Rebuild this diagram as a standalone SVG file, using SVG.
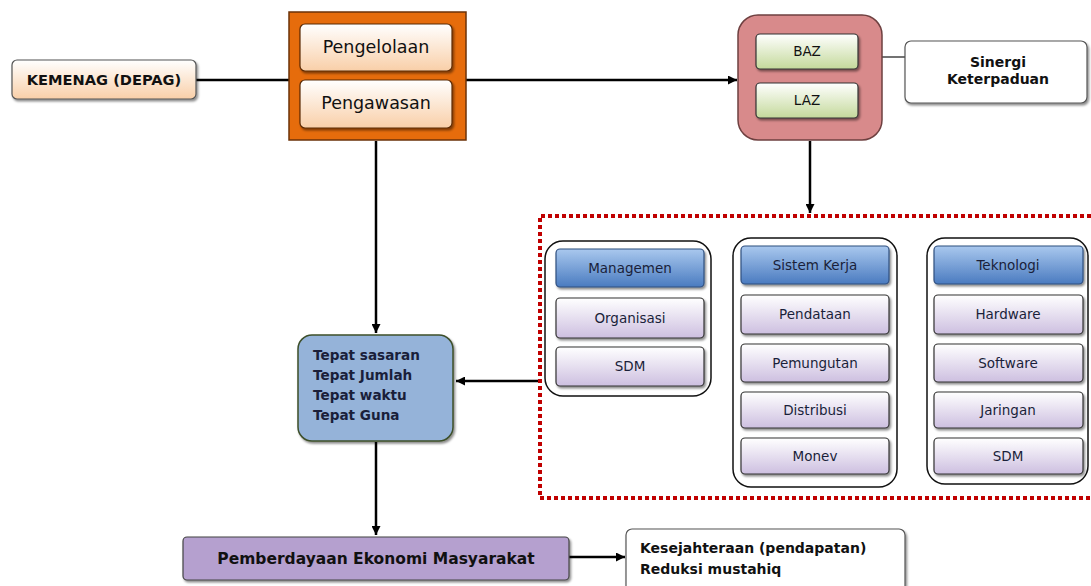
<svg xmlns="http://www.w3.org/2000/svg" width="1091" height="586" viewBox="0 0 1091 586">
<defs>
<linearGradient id="gPeach" x1="0" y1="0" x2="0" y2="1"><stop offset="0" stop-color="#ffffff"/><stop offset="1" stop-color="#f9cfa8"/></linearGradient>
<linearGradient id="gGreen" x1="0" y1="0" x2="0" y2="1"><stop offset="0" stop-color="#ffffff"/><stop offset="1" stop-color="#c4d99b"/></linearGradient>
<linearGradient id="gBlue" x1="0" y1="0" x2="0" y2="1"><stop offset="0" stop-color="#a9c8ee"/><stop offset="1" stop-color="#4a7bc0"/></linearGradient>
<linearGradient id="gLav" x1="0" y1="0" x2="0" y2="1"><stop offset="0" stop-color="#ffffff"/><stop offset="1" stop-color="#cdbfe0"/></linearGradient>
<filter id="sh" x="-10%" y="-10%" width="130%" height="140%"><feDropShadow dx="1.5" dy="2" stdDeviation="1" flood-color="#000" flood-opacity="0.45"/></filter>
<marker id="ah" viewBox="0 0 10 10" refX="10" refY="5" markerWidth="9" markerHeight="9" markerUnits="userSpaceOnUse" orient="auto"><path d="M0,0 L10,5 L0,10 z" fill="#000"/></marker>
</defs>
<style>
.t{font-family:"DejaVu Sans",Verdana,sans-serif;fill:#111;}
.b{font-weight:bold;}
.c{text-anchor:middle;}
.n{fill:#1a1f3a;}
.item{fill:url(#gLav);stroke:#333;stroke-width:1.2;filter:url(#sh);}
.head{fill:url(#gBlue);stroke:#2f4f7f;stroke-width:1.2;filter:url(#sh);}
.col{fill:#fff;stroke:#111;stroke-width:1.5;}
.ln{stroke:#000;stroke-width:2.5;fill:none;}
</style>
<rect width="1091" height="586" fill="#fff"/>

<g id="connectors">
<line class="ln" x1="196" y1="80" x2="289" y2="80"/>
<line class="ln" x1="466" y1="80" x2="737" y2="80" marker-end="url(#ah)"/>
<line x1="882" y1="57" x2="905" y2="57" stroke="#444" stroke-width="1.5"/>
<line class="ln" x1="810" y1="141" x2="810" y2="213" marker-end="url(#ah)"/>
<line class="ln" x1="376" y1="141" x2="376" y2="333" marker-end="url(#ah)"/>
<line class="ln" x1="540" y1="381" x2="456" y2="381" marker-end="url(#ah)"/>
<line class="ln" x1="376" y1="442" x2="376" y2="535" marker-end="url(#ah)"/>
<line class="ln" x1="569" y1="557" x2="625" y2="557" marker-end="url(#ah)"/>
</g>

<g id="kemenag">
<rect x="12" y="60" width="184" height="39" rx="5" fill="url(#gPeach)" stroke="#555" stroke-width="1.2" filter="url(#sh)"/>
<text class="t b c" x="104" y="85" font-size="14.6">KEMENAG (DEPAG)</text>
</g>

<g id="pengelolaan-group">
<rect x="289" y="12" width="177" height="128" fill="#e66c0c" stroke="#6b3208" stroke-width="1.5"/>
<rect x="300" y="24" width="152" height="47" rx="5" fill="url(#gPeach)" stroke="#5a2a05" stroke-width="1.2" filter="url(#sh)"/>
<text class="t c" x="376" y="53" font-size="17.5">Pengelolaan</text>
<rect x="300" y="80" width="152" height="48" rx="5" fill="url(#gPeach)" stroke="#5a2a05" stroke-width="1.2" filter="url(#sh)"/>
<text class="t c" x="376" y="109" font-size="17.5">Pengawasan</text>
</g>

<g id="baz-laz">
<rect x="738" y="15" width="144" height="125" rx="20" fill="#d88a8b" stroke="#6e4040" stroke-width="1.5"/>
<rect x="756" y="34" width="102" height="35" rx="4" fill="url(#gGreen)" stroke="#333" stroke-width="1.2" filter="url(#sh)"/>
<text class="t c" x="807" y="56" font-size="13.5">BAZ</text>
<rect x="756" y="83" width="102" height="35" rx="4" fill="url(#gGreen)" stroke="#333" stroke-width="1.2" filter="url(#sh)"/>
<text class="t c" x="807" y="105" font-size="13.5">LAZ</text>
</g>

<g id="sinergi">
<rect x="905" y="41" width="182" height="62" rx="6" fill="#fff" stroke="#555" stroke-width="1.2" filter="url(#sh)"/>
<text class="t b c" x="998" y="67" font-size="14">Sinergi</text>
<text class="t b c" x="998" y="84" font-size="14">Keterpaduan</text>
</g>

<g id="dotted-frame">
<path d="M1091,216 L540,216 L540,498 L1091,498" fill="none" stroke="#c00000" stroke-width="4" stroke-dasharray="4,3"/>
</g>

<g id="managemen">
<rect class="col" x="545" y="241" width="166" height="155" rx="18"/>
<rect class="head" x="556" y="249" width="148" height="38" rx="4"/>
<text class="t c n" x="630" y="273" font-size="13.5">Managemen</text>
<rect class="item" x="556" y="298" width="148" height="40" rx="4"/>
<text class="t c n" x="630" y="323" font-size="13.5">Organisasi</text>
<rect class="item" x="556" y="347" width="148" height="39" rx="4"/>
<text class="t c n" x="630" y="371" font-size="13.5">SDM</text>
</g>

<g id="sistem-kerja">
<rect class="col" x="733" y="238" width="164" height="249" rx="18"/>
<rect class="head" x="741" y="246" width="148" height="38" rx="4"/>
<text class="t c n" x="815" y="270" font-size="13.5">Sistem Kerja</text>
<rect class="item" x="741" y="295" width="148" height="39" rx="4"/>
<text class="t c n" x="815" y="319" font-size="13.5">Pendataan</text>
<rect class="item" x="741" y="344" width="148" height="38" rx="4"/>
<text class="t c n" x="815" y="368" font-size="13.5">Pemungutan</text>
<rect class="item" x="741" y="392" width="148" height="36" rx="4"/>
<text class="t c n" x="815" y="415" font-size="13.5">Distribusi</text>
<rect class="item" x="741" y="438" width="148" height="36" rx="4"/>
<text class="t c n" x="815" y="461" font-size="13.5">Monev</text>
</g>

<g id="teknologi">
<rect class="col" x="927" y="238" width="161" height="246" rx="18"/>
<rect class="head" x="934" y="246" width="149" height="38" rx="4"/>
<text class="t c n" x="1008" y="270" font-size="13.5">Teknologi</text>
<rect class="item" x="934" y="295" width="149" height="39" rx="4"/>
<text class="t c n" x="1008" y="319" font-size="13.5">Hardware</text>
<rect class="item" x="934" y="344" width="149" height="38" rx="4"/>
<text class="t c n" x="1008" y="368" font-size="13.5">Software</text>
<rect class="item" x="934" y="392" width="149" height="36" rx="4"/>
<text class="t c n" x="1008" y="415" font-size="13.5">Jaringan</text>
<rect class="item" x="934" y="438" width="149" height="36" rx="4"/>
<text class="t c n" x="1008" y="461" font-size="13.5">SDM</text>
</g>

<g id="tepat">
<rect x="298" y="335" width="155" height="106" rx="14" fill="#95b3d9" stroke="#3d4f2a" stroke-width="1.5" filter="url(#sh)"/>
<text class="t b n" x="313" y="360" font-size="13.6">Tepat sasaran</text>
<text class="t b n" x="313" y="380" font-size="13.6">Tepat Jumlah</text>
<text class="t b n" x="313" y="400" font-size="13.6">Tepat waktu</text>
<text class="t b n" x="313" y="420" font-size="13.6">Tepat Guna</text>
</g>

<g id="pemberdayaan">
<rect x="183" y="537" width="386" height="43" rx="4" fill="#b5a0cf" stroke="#444" stroke-width="1.2" filter="url(#sh)"/>
<text class="t b c" x="376" y="564" font-size="15.5">Pemberdayaan Ekonomi Masyarakat</text>
</g>

<g id="kesejahteraan">
<rect x="626" y="529" width="279" height="70" rx="6" fill="#fff" stroke="#555" stroke-width="1.2" filter="url(#sh)"/>
<text class="t b" x="640" y="553" font-size="14">Kesejahteraan (pendapatan)</text>
<text class="t b" x="640" y="574" font-size="14">Reduksi mustahiq</text>
</g>
</svg>
